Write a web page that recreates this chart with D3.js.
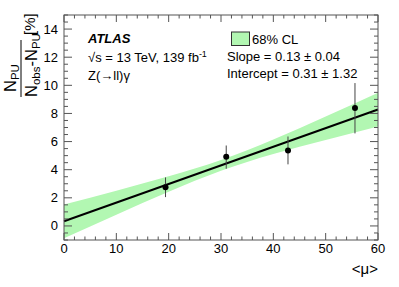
<!DOCTYPE html>
<html><head><meta charset="utf-8">
<script src="https://cdn.jsdelivr.net/npm/d3@7"></script>
<style>body{margin:0;background:#fff}svg{display:block;font-family:"Liberation Sans",Arial,sans-serif}</style>
</head><body><svg id="c" width="399" height="287"></svg>
<script>
const muX = [19.4, 31.0, 42.8, 55.6];
const npuY = [2.75, 4.92, 5.36, 8.38];
const errLo = [0.70, 0.85, 0.98, 1.80];
const errHi = [0.70, 0.80, 1.00, 1.78];
const fitX = [0, 60];
const fitY = [0.33, 8.28];
const bandX = [0, 10, 20, 30, 40, 50, 60];
const bandLo = [-0.87, 0.80, 2.43, 3.92, 5.12, 6.12, 7.08];
const bandHi = [1.53, 2.51, 3.53, 4.69, 6.14, 7.79, 9.48];
const xTicks = [0, 10, 20, 30, 40, 50, 60];
const yTicks = [0, 2, 4, 6, 8, 10, 12, 14];

const svg = d3.select("#c");
const x = d3.scaleLinear().domain([0, 60]).range([64, 378]);
const y = d3.scaleLinear().domain([-1, 15]).range([240, 15]);

// band
const band = d3.area().x((d,i)=>x(bandX[i])).y0((d,i)=>y(bandLo[i])).y1((d,i)=>y(bandHi[i])).curve(d3.curveNatural);
svg.append("path").datum(bandX).attr("d", band).attr("fill", "#b2f7b2");

// fit line
svg.append("line").attr("x1", x(fitX[0])).attr("y1", y(fitY[0])).attr("x2", x(fitX[1])).attr("y2", y(fitY[1]))
  .attr("stroke", "#000").attr("stroke-width", 2);

// frame and ticks
const fc = "#555";
svg.append("rect").attr("x", 64).attr("y", 15).attr("width", 314).attr("height", 225)
  .attr("fill", "none").attr("stroke", fc).attr("stroke-width", 1);
const g = svg.append("g").attr("stroke", fc).attr("stroke-width", 1);
for (let v = 0; v <= 60; v += 2) {
  const major = v % 10 === 0;
  const L = major ? 7 : 3.5;
  g.append("line").attr("x1", x(v)).attr("x2", x(v)).attr("y1", 240).attr("y2", 240 - L);
  g.append("line").attr("x1", x(v)).attr("x2", x(v)).attr("y1", 15).attr("y2", 15 + L);
}
for (let v = -1; v <= 15; v += 0.5) {
  const major = Math.abs(v % 2) < 1e-9;
  const L = major ? 8 : 4;
  g.append("line").attr("y1", y(v)).attr("y2", y(v)).attr("x1", 64).attr("x2", 64 + L);
  g.append("line").attr("y1", y(v)).attr("y2", y(v)).attr("x1", 378).attr("x2", 378 - L);
}
svg.selectAll(".xt").data(xTicks).enter().append("text").attr("x", d=>x(d)).attr("y", 253)
  .attr("text-anchor", "middle").attr("font-size", 13).text(d=>d);
svg.selectAll(".yt").data(yTicks).enter().append("text").attr("x", 58).attr("y", d=>y(d)+4.5)
  .attr("text-anchor", "end").attr("font-size", 13).text(d=>d);

// data points
const pts = svg.append("g");
muX.forEach((m, i) => {
  pts.append("line").attr("x1", x(m)).attr("x2", x(m)).attr("y1", y(npuY[i]-errLo[i])).attr("y2", y(npuY[i]+errHi[i]))
    .attr("stroke", "#444").attr("stroke-width", 1);
  pts.append("circle").attr("cx", x(m)).attr("cy", y(npuY[i])).attr("r", 3).attr("fill", "#000");
});

// axis titles
svg.append("text").attr("x", 378).attr("y", 274).attr("text-anchor", "end").attr("font-size", 15).text("<μ>");
const yl = svg.append("g").attr("transform", "translate(0,97) rotate(-90)");
const num = yl.append("text").attr("x", 5).attr("y", 16).attr("font-size", 16.5);
num.append("tspan").text("N");
num.append("tspan").attr("font-size", 11.5).attr("dy", 3).text("PU");
yl.append("line").attr("x1", 0).attr("x2", 57).attr("y1", 21).attr("y2", 21).attr("stroke", "#000").attr("stroke-width", 1);
const den = yl.append("text").attr("x", 0).attr("y", 37).attr("font-size", 16.5);
den.append("tspan").text("N");
den.append("tspan").attr("font-size", 11.5).attr("dy", 3).text("obs");
den.append("tspan").attr("dy", -3).text("-N");
den.append("tspan").attr("font-size", 11.5).attr("dy", 3).text("PU");
yl.append("text").attr("x", 62).attr("y", 35).attr("font-size", 15).text("[%]");

// ATLAS labels
svg.append("text").attr("x", 88).attr("y", 43).attr("font-size", 13).attr("font-weight", "bold").attr("font-style", "italic").text("ATLAS");
const s2 = svg.append("text").attr("x", 88).attr("y", 62).attr("font-size", 13);
s2.append("tspan").text("√s = 13 TeV, 139 fb");
s2.append("tspan").attr("font-size", 9).attr("dy", -5).text("-1");
svg.append("text").attr("x", 88).attr("y", 80).attr("font-size", 13).text("Z(→ll)γ");

// legend
svg.append("rect").attr("x", 231.5).attr("y", 32).attr("width", 18).attr("height", 13.5)
  .attr("fill", "#b2f7b2").attr("stroke", "#333").attr("stroke-width", 1);
svg.append("text").attr("x", 252).attr("y", 44).attr("font-size", 13).text("68% CL");
svg.append("text").attr("x", 227).attr("y", 61).attr("font-size", 13).text("Slope = 0.13 ± 0.04");
svg.append("text").attr("x", 227).attr("y", 78).attr("font-size", 13).text("Intercept = 0.31 ± 1.32");
</script></body></html>
